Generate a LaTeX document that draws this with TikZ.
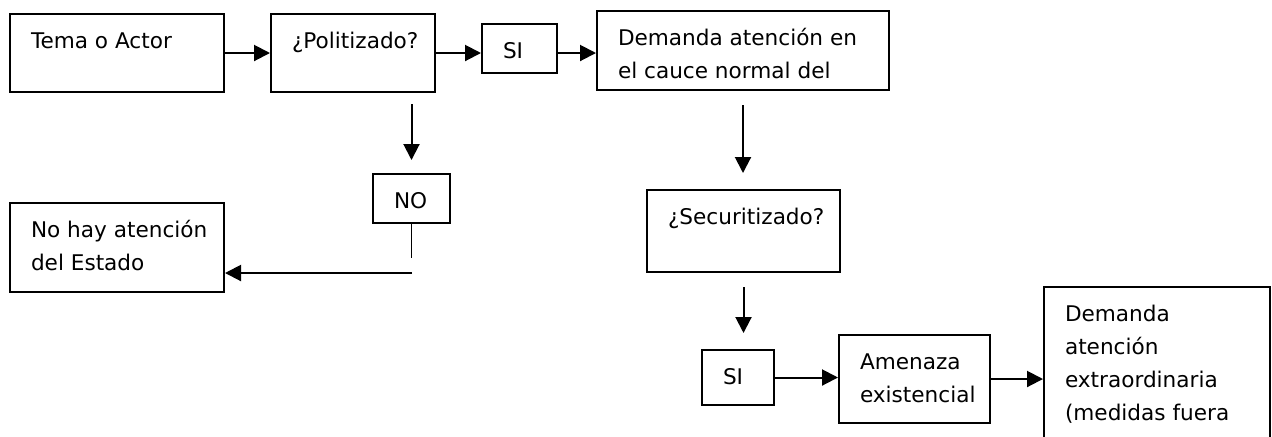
\documentclass[tikz,border=0pt]{standalone}
\usepackage{fontspec}
\setmainfont{DejaVu Sans}
\usetikzlibrary{arrows.meta}
\newcommand{\textocaja}[3]{\parbox[c][#2][t]{#1}{\leftskip=10.5pt\rule{0pt}{17pt}#3}}

\begin{document}
\begin{tikzpicture}[x = 0.5pt, y = -0.5pt,
        caja/.style = {draw, line width = 1pt, anchor = north west, inner sep = 0pt,
            font = \fontsize{10.8}{16.5}\selectfont},
        flecha/.style = {line width = 1pt, -{Triangle[length = 8pt, width = 8pt]}}]
    \useasboundingbox (0, 0) rectangle (1272, 436);
    \clip (0, 0) rectangle (1272, 436);
    \draw
        node [caja] (A) at (9, 13) {\textocaja{107pt}{39pt}{Tema o Actor}}
        node [caja] (B) at (270, 13) {\textocaja{82pt}{39pt}{¿Politizado?}}
        node [caja] (C) at (481, 23) {\textocaja{37.5pt}{24.5pt}{SI}}
        node [caja] (D) at (596, 10) {\textocaja{146pt}{39.5pt}{Demanda atención en\\el cauce normal del}}
        node [caja] (E) at (372, 173) {\textocaja{38.5pt}{24.5pt}{NO}}
        node [caja] (F) at (9, 202) {\textocaja{107pt}{44.5pt}{No hay atención\\del Estado}}
        node [caja] (G) at (646, 189) {\textocaja{96.5pt}{41pt}{¿Securitizado?}}
        node [caja] (H) at (701, 349) {\textocaja{36pt}{27.5pt}{SI}}
        node [caja] (I) at (838, 334) {\textocaja{75.5pt}{44pt}{Amenaza\\existencial}}
        node [caja] (J) at (1043, 286) {\textocaja{113pt}{100pt}{Demanda\\atención\\extraordinaria\\(medidas fuera}};
    \coordinate (codo) at (E.south |- 0, 258);
    \coordinate (salida) at (412, 273);
    \draw [flecha] (A) -- (B);
    \draw [flecha] (B.east) -- (B.east -| C.west);
    \draw [flecha] (C.east |- B.east) -- (D.west |- B.east);
    \draw [flecha] (H.east) -- (H.east -| I.west);
    \draw [flecha] (I.east) -- (I.east -| J.west);
    \draw [flecha] (salida) -- (salida -| F.east);
    \draw [flecha, shorten < = 5.5pt, shorten > = 6.5pt] (B.south -| E.north) -- (E.north);
    \draw [flecha, shorten < = 7pt, shorten > = 8pt] (D.south) -- (D.south |- G.north);
    \draw [flecha, shorten < = 7pt, shorten > = 8pt] (G.south) -- (G.south |- H.north);
    \draw [line width = 0.5pt] (E.south) -- (codo);
\end{tikzpicture}
\end{document}
